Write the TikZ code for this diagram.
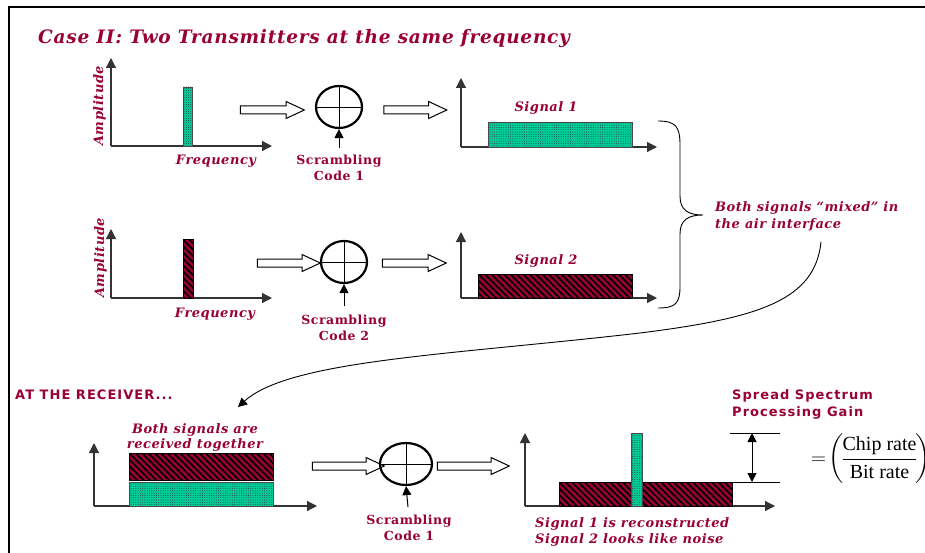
\documentclass[tikz,border=0pt]{standalone}
\usepackage{amsmath}
\usepackage{fontspec}
\setmainfont{Liberation Serif}
\newfontfamily\bookfont[LetterSpace=4]{DejaVu Serif}
\newfontfamily\verdfont[LetterSpace=8]{DejaVu Sans}
\usetikzlibrary{arrows.meta, shapes.geometric, shapes.arrows, patterns.meta, positioning}
\definecolor{wine}{HTML}{990033}
\definecolor{jade}{HTML}{00CC99}

\begin{document}
\begin{tikzpicture}[x=1pt, y=-1pt,
  axis/.style={-{Triangle[length=10pt, width=10pt]}, line width=1.2pt, black!80},
  tick/.style={-{Triangle[length=9pt, width=9pt]}, line width=1pt},
  gap/.style={{Triangle[length=9pt, width=9pt]}-{Triangle[length=9pt, width=9pt]}, line width=1pt},
  lbl/.style={wine, inner sep=0pt, font=\bookfont\bfseries\itshape\fontsize{13}{16}\selectfont},
  titletext/.style={wine, inner sep=0pt, font=\bookfont\bfseries\itshape\fontsize{18.5}{22}\selectfont},
  code/.style={wine, inner sep=0pt, font=\bookfont\bfseries\fontsize{12.5}{16}\selectfont},
  head/.style={wine, inner sep=0pt, font=\verdfont\bfseries\fontsize{13}{16}\selectfont},
  xor/.style={ellipse, draw, line width=2.2pt, minimum width=46pt, minimum height=42pt, inner sep=0pt},
  fat/.style={single arrow, draw, line width=1pt, fill=white, minimum height=#1,
    single arrow head extend=4.5pt, single arrow tip angle=50, inner sep=3.5pt},
  green/.style={fill=jade, draw=black!70, line width=0.8pt,
    postaction={pattern={Dots[distance=2.3pt, radius=0.45pt]}, pattern color=black!80}},
  hatch/.style={fill=wine, draw=black, line width=0.8pt,
    postaction={pattern={Lines[angle=-45, distance=4.5pt, line width=1.7pt]}, pattern color=black}},
]
\useasboundingbox (0,0) rectangle (925,553);

% ===== Frame and title =====
\draw[line width=2pt] (925,7) -- (9,7) -- (9,553);
\node[titletext, anchor=base west] (title) at (38,44) {Case II: Two Transmitters at the same frequency};

% ===== Transmitter 1 =====
\coordinate (o1) at (111,146);
\draw[axis] (o1) -- (272,146);
\draw[axis] (o1) -- (111,58);
\draw[green] (183,87) rectangle (192,146);
\node[lbl, rotate=90, anchor=base west] (amp1) at (103,146) {Amplitude};
\node[lbl, anchor=base] (freq1) at (216,165) {Frequency};

\node[fat=64pt] (in1) at (268,110) {};
\node[xor] (xor1) at (339,107) {};
\draw (xor1.north) -- (xor1.south) (xor1.west) -- (xor1.east);
\node[code, anchor=base] (scr1) at (339,165) {Scrambling};
\node[code, anchor=base] (cd1) at (339,181) {Code 1};
\coordinate (k1) at (339,148);
\draw[tick] (k1) -- (xor1.south);
\node[fat=63pt] (out1) at (411,110) {};

% Signal 1 after spreading
\coordinate (o3) at (461,147);
\draw[axis] (o3) -- (657,147);
\draw[axis] (o3) -- (461,78);
\draw[green] (488,122) rectangle (632,147);
\node[lbl, anchor=base] (sig1) at (546,112) {Signal 1};

% ===== Transmitter 2 =====
\coordinate (o2) at (111,298);
\draw[axis] (o2) -- (272,298);
\draw[axis] (o2) -- (111,229);
\draw[hatch] (183,239) rectangle (193,298);
\node[lbl, rotate=90, anchor=base west] (amp2) at (104,298) {Amplitude};
\node[lbl, anchor=base] (freq2) at (215,317) {Frequency};

\node[fat=63pt] (in2) at (284.5,263) {};
\node[xor] (xor2) at (344,262) {};
\draw (xor2.north) -- (xor2.south) (xor2.west) -- (xor2.east);
\node[code, anchor=base] (scr2) at (344,324) {Scrambling};
\node[code, anchor=base] (cd2) at (344,340) {Code 2};
\coordinate (k2) at (344,306);
\draw[tick] (k2) -- (xor2.south);
\node[fat=64pt] (out2) at (410,263) {};

% Signal 2 after spreading
\coordinate (o4) at (461,298);
\draw[axis] (o4) -- (657,298);
\draw[axis] (o4) -- (461,232);
\draw[hatch] (478,274) rectangle (632,298);
\node[lbl, anchor=base] (sig2) at (546,264) {Signal 2};

% ===== Air interface =====
\draw[line width=0.9pt] (658,121) .. controls (676,121) and (680,127) .. (680,145)
  -- (680,196) .. controls (680,210) and (688,215) .. (703,215)
  .. controls (688,215) and (680,220) .. (680,234)
  -- (680,286) .. controls (680,303) and (676,308) .. (658,308);
\node[lbl, anchor=base west] (mix1) at (715,212) {Both signals “mixed” in};
\node[lbl, anchor=base west] (mix2) at (715,229) {the air interface};
\coordinate (air) at (821,242);
\coordinate (rcv) at (238,407);
\draw[tick, line width=0.9pt] (air) .. controls (815,300) and (760,318) .. (640,333)
  .. controls (450,355) and (290,360) .. (rcv);

% ===== Receiver =====
\node[head, anchor=base west] (rx) at (15,399) {AT THE RECEIVER...};
\coordinate (o5) at (94,506);
\draw[axis] (o5) -- (317,506);
\draw[axis] (o5) -- (94,443);
\draw[hatch] (129,453) rectangle (273,480);
\draw[green] (129,482) rectangle (273,506);
\node[lbl, anchor=base] (both1) at (195,433) {Both signals are};
\node[lbl, anchor=base] (both2) at (195,448) {received together};

\node[fat=72pt] (in3) at (344,466) {};
\node[xor, minimum width=52pt] (xor3) at (406,464) {};
\draw (xor3.north) -- (xor3.south) (xor3.west) -- (xor3.east);
\node[code, anchor=base] (scr3) at (409,524) {Scrambling};
\node[code, anchor=base] (cd3) at (409,540) {Code 1};
\coordinate (k3) at (408,507);
\draw[tick] (k3) -- (xor3.south);
\node[fat=72pt] (out3) at (469,466) {};

% Despread result
\coordinate (o6) at (525,506);
\draw[axis] (o6) -- (775,506);
\draw[axis] (o6) -- (525,433);
\draw[hatch] (559,482) rectangle (732,506);
\draw[green] (631,433) rectangle (642,506);
\node[lbl, anchor=base west] (res1) at (535,527) {Signal 1 is reconstructed};
\node[lbl, anchor=base west] (res2) at (535,543) {Signal 2 looks like noise};

% Processing gain
\coordinate (gtop) at (752,433);
\coordinate (gbot) at (752,482);
\draw[line width=0.8pt] (730,433) -- (780,433) (732,482) -- (780,482);
\draw[gap] (gtop) -- (gbot);
\node[head, anchor=base west] (pg1) at (732,399) {Spread Spectrum};
\node[head, anchor=base west] (pg2) at (732,416) {Processing Gain};
\node[inner sep=0pt, anchor=west, font=\fontsize{20}{24}\selectfont] (eq) at (811,459)
  {$=\mskip-3mu\bigg(\mskip-2mu\dfrac{\text{Chip rate}}{\text{Bit rate}}\mskip-2mu\bigg)$};

\end{tikzpicture}
\end{document}
